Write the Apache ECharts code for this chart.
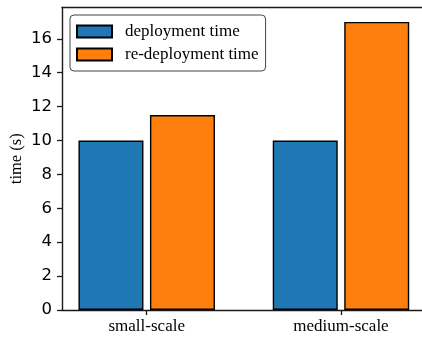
<!DOCTYPE html>
<html>
<head>
<meta charset="utf-8">
<script src="https://cdn.jsdelivr.net/npm/echarts@6/dist/echarts.min.js"></script>
<style>
  html, body { margin: 0; padding: 0; background: #fff; }
  #chart { width: 422px; height: 341px; }
</style>
</head>
<body>
<div id="chart"></div>
<script>
// Scenario names and their positions on the x scale
const categories = ['small-scale', 'medium-scale'];
const categoryPos = [0, 1];
// Times in seconds
const deploymentTime = [10, 10];
const redeploymentTime = [11.5, 17];
const yTicks = [0, 2, 4, 6, 8, 10, 12, 14, 16];

const SERIF = '"Liberation Serif", "Times New Roman", serif';
const SANS = '"DejaVu Sans", sans-serif';
const SPINE = '#1a1a1a';

const chart = echarts.init(document.getElementById('chart'), null, { renderer: 'canvas' });

const pairs = vals => vals.map((v, i) => [categoryPos[i], v]);

// x range: the right spine falls just outside the canvas
const X_MIN = -0.436;
const X_MAX = 1.417;

chart.setOption({
  animation: false,
  backgroundColor: '#fff',
  grid: { left: 62, top: 7.5, right: 0, bottom: 31, containLabel: false, outerBoundsMode: 'none' },
  legend: {
    orient: 'vertical',
    left: 70,
    top: 15,
    itemWidth: 35,
    itemHeight: 12,
    itemGap: 6,
    padding: [8, 7, 8, 6],
    backgroundColor: '#fff',
    borderColor: '#444',
    borderWidth: 1,
    borderRadius: 4,
    icon: 'rect',
    textStyle: {
      fontFamily: SERIF,
      fontSize: 17,
      color: '#000',
      padding: [0, 0, 0, 8]
    },
    data: ['deployment time', 're-deployment time']
  },
  xAxis: [
    {
      type: 'value',
      min: X_MIN,
      max: X_MAX,
      splitLine: { show: false },
      axisLine: { show: true, onZero: false, lineStyle: { color: SPINE, width: 1.4 } },
      axisTick: { show: true, customValues: categoryPos, length: 5, lineStyle: { color: SPINE, width: 1.3 } },
      axisLabel: {
        customValues: categoryPos,
        margin: 8,
        fontFamily: SERIF,
        fontSize: 17,
        color: '#000',
        formatter: v => {
          const i = categoryPos.indexOf(Math.round(v));
          return i >= 0 ? categories[i] : '';
        }
      }
    },
    {
      type: 'value',
      position: 'top',
      min: X_MIN,
      max: X_MAX,
      splitLine: { show: false },
      axisLine: { show: true, onZero: false, lineStyle: { color: SPINE, width: 1.4 } },
      axisTick: { show: false },
      axisLabel: { show: false }
    }
  ],
  yAxis: {
    type: 'value',
    min: 0,
    max: 17.85,
    name: 'time (s)',
    nameLocation: 'middle',
    nameGap: 36.5,
    nameMoveOverlap: false,
    nameTextStyle: { fontFamily: SERIF, fontSize: 16.5, color: '#000' },
    splitLine: { show: false },
    axisLine: { show: true, onZero: false, lineStyle: { color: SPINE, width: 1.4 } },
    axisTick: { show: true, customValues: yTicks, length: 5, lineStyle: { color: SPINE, width: 1.3 } },
    axisLabel: {
      customValues: yTicks,
      margin: 10,
      fontFamily: SANS,
      fontSize: 16.5,
      color: '#000'
    }
  },
  series: [
    {
      name: 'deployment time',
      type: 'bar',
      xAxisIndex: 0,
      barWidth: 65,
      barGap: '10%',
      data: pairs(deploymentTime),
      itemStyle: { color: '#1f77b4', borderColor: '#000', borderWidth: 1.4 }
    },
    {
      name: 're-deployment time',
      type: 'bar',
      xAxisIndex: 0,
      barWidth: 65,
      barGap: '10%',
      data: pairs(redeploymentTime),
      itemStyle: { color: '#ff7f0e', borderColor: '#000', borderWidth: 1.4 }
    }
  ]
});
</script>
</body>
</html>
